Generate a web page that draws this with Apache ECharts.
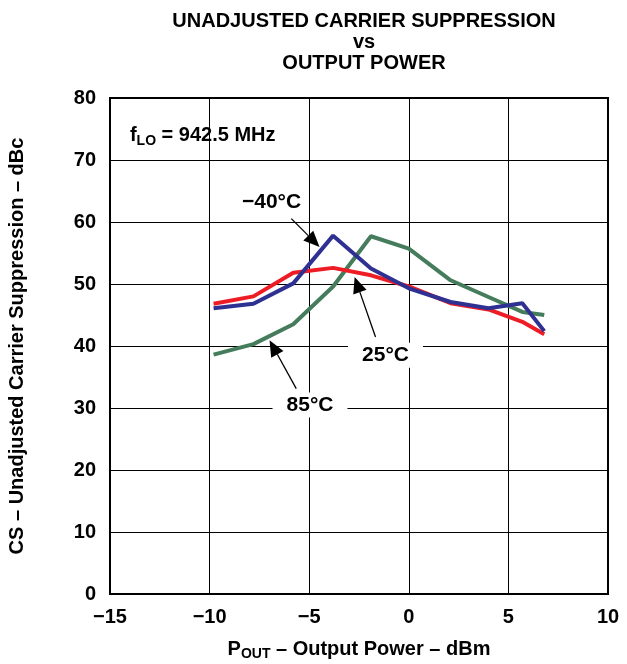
<!DOCTYPE html>
<html>
<head>
<meta charset="utf-8">
<script src="https://cdn.jsdelivr.net/npm/echarts@6/dist/echarts.min.js"></script>
<style>
html,body{margin:0;padding:0;background:#fff;}
#c{width:627px;height:664px;}
</style>
</head>
<body>
<div id="c"></div>
<script>
// ---- data ----
const powerDbm   = [-9.8, -7.8, -5.8, -3.8, -1.9, 0.0, 2.1, 4.0, 5.7, 6.8];
const csMinus40C = [46.1, 46.8, 50.1, 57.8, 52.5, 49.3, 47.1, 46.1, 46.9, 42.4];
const cs25C      = [46.8, 48.0, 51.8, 52.6, 51.4, 49.6, 46.9, 45.9, 43.9, 41.9];
const cs85C      = [38.6, 40.3, 43.5, 49.6, 57.7, 55.7, 50.6, 47.9, 45.5, 45.0];
const xTicks = [-15, -10, -5, 0, 5, 10];
const yTicks = [0, 10, 20, 30, 40, 50, 60, 70, 80];
const seriesNames = ['85°C', '25°C', '−40°C'];

// annotation anchors in data units
const annotations = [
  { text: '−40°C', label: [-6.89, 63.2], from: [-5.90, 60.55], to: [-4.48, 55.97], bg: false },
  { text: '25°C',  label: [-1.17, 38.5], from: [-1.67, 41.45], to: [-2.72, 51.13], bg: true },
  { text: '85°C',  label: [-4.96, 30.5], from: [-5.65, 33.13], to: [-6.99, 40.92], bg: true }
];
const fLoAnchor = [-14.0, 73.9];

const FONT = '"Liberation Sans", Arial, sans-serif';
const FS = 20;
const pair = (xs, ys) => xs.map((x, i) => [x, ys[i]]);

const chart = echarts.init(document.getElementById('c'), null, { renderer: 'canvas' });

const option = {
  backgroundColor: '#fff',
  animation: false,
  title: {
    text: 'UNADJUSTED CARRIER SUPPRESSION\nvs\nOUTPUT POWER',
    left: 359, top: 6, textAlign: 'center',
    textStyle: { fontFamily: FONT, fontWeight: 'bold', fontSize: 20, lineHeight: 21, color: '#000' }
  },
  grid: { left: 110, right: 19, top: 98, bottom: 70, containLabel: false, outerBoundsMode: 'none',
    show: true, borderColor: '#000', borderWidth: 2 },
  xAxis: {
    type: 'value', min: -15, max: 10, interval: 5,
    axisLine: { show: true, onZero: false, lineStyle: { color: '#000', width: 2 } },
    axisTick: { show: false },
    splitLine: { show: true, lineStyle: { color: '#000', width: 1 } },
    axisLabel: { fontFamily: FONT, fontWeight: 'bold', fontSize: FS, color: '#000', margin: 13,
      formatter: v => (v < 0 ? '−' + Math.abs(v) : String(v)) },
    name: '{a|P}{b|OUT}{a| – Output Power – dBm}',
    nameLocation: 'middle', nameGap: 43,
    nameTextStyle: { rich: {
      a: { fontFamily: FONT, fontWeight: 'bold', fontSize: FS, color: '#000' },
      b: { fontFamily: FONT, fontWeight: 'bold', fontSize: 14, color: '#000', padding: [10, 0, 0, 0] }
    } }
  },
  yAxis: {
    type: 'value', min: 0, max: 80, interval: 10,
    axisLine: { show: true, onZero: false, lineStyle: { color: '#000', width: 2 } },
    axisTick: { show: false },
    splitLine: { show: true, lineStyle: { color: '#000', width: 1 } },
    axisLabel: { fontFamily: FONT, fontWeight: 'bold', fontSize: FS, color: '#000', margin: 14 },
    name: 'CS – Unadjusted Carrier Suppression – dBc',
    nameLocation: 'middle', nameGap: 83, nameRotate: 90,
    nameTextStyle: { fontFamily: FONT, fontWeight: 'bold', fontSize: FS, color: '#000' }
  },
  series: [
    { name: seriesNames[0], type: 'line', data: pair(powerDbm, cs85C), showSymbol: false,
      lineStyle: { color: '#447c5c', width: 4 }, itemStyle: { color: '#447c5c' }, z: 3 },
    { name: seriesNames[1], type: 'line', data: pair(powerDbm, cs25C), showSymbol: false,
      lineStyle: { color: '#ee1c25', width: 4 }, itemStyle: { color: '#ee1c25' }, z: 4 },
    { name: seriesNames[2], type: 'line', data: pair(powerDbm, csMinus40C), showSymbol: false,
      lineStyle: { color: '#2e3192', width: 4 }, itemStyle: { color: '#2e3192' }, z: 5 }
  ]
};
chart.setOption(option);

// annotations placed through the chart's own coordinate conversion
const toPx = p => chart.convertToPixel({ gridIndex: 0 }, p);
const graphics = [];
annotations.forEach(a => {
  const lp = toPx(a.label), f = toPx(a.from), t = toPx(a.to);
  const dx = t[0] - f[0], dy = t[1] - f[1], L = Math.hypot(dx, dy);
  const ux = dx / L, uy = dy / L, hl = 16, hw = 7;
  const bx = t[0] - ux * hl, by = t[1] - uy * hl;
  graphics.push({ type: 'line', z: 20, shape: { x1: f[0], y1: f[1], x2: bx, y2: by },
    style: { stroke: '#000', lineWidth: 1.3 } });
  graphics.push({ type: 'polygon', z: 20, shape: { points: [
    [t[0], t[1]], [bx - uy * hw, by + ux * hw], [bx + uy * hw, by - ux * hw]] },
    style: { fill: '#000' } });
  graphics.push({ type: 'text', z: 21, x: lp[0], y: lp[1], style: {
    text: a.text, fontFamily: FONT, fontWeight: 'bold', fontSize: 21, fill: '#000',
    align: 'center', verticalAlign: 'middle',
    backgroundColor: a.bg ? '#fff' : null, padding: a.bg ? [2, 14, 2, 14] : 0 } });
});
const fp = toPx(fLoAnchor);
graphics.push({ type: 'text', z: 21, x: fp[0], y: fp[1], style: {
  text: '{a|f}{b|LO}{a| = 942.5 MHz}', align: 'left', verticalAlign: 'middle',
  rich: {
    a: { fontFamily: FONT, fontWeight: 'bold', fontSize: 20, fill: '#000' },
    b: { fontFamily: FONT, fontWeight: 'bold', fontSize: 14, fill: '#000', padding: [10, 0, 0, 0] }
  } } });
chart.setOption({ graphic: graphics });
</script>
</body>
</html>
